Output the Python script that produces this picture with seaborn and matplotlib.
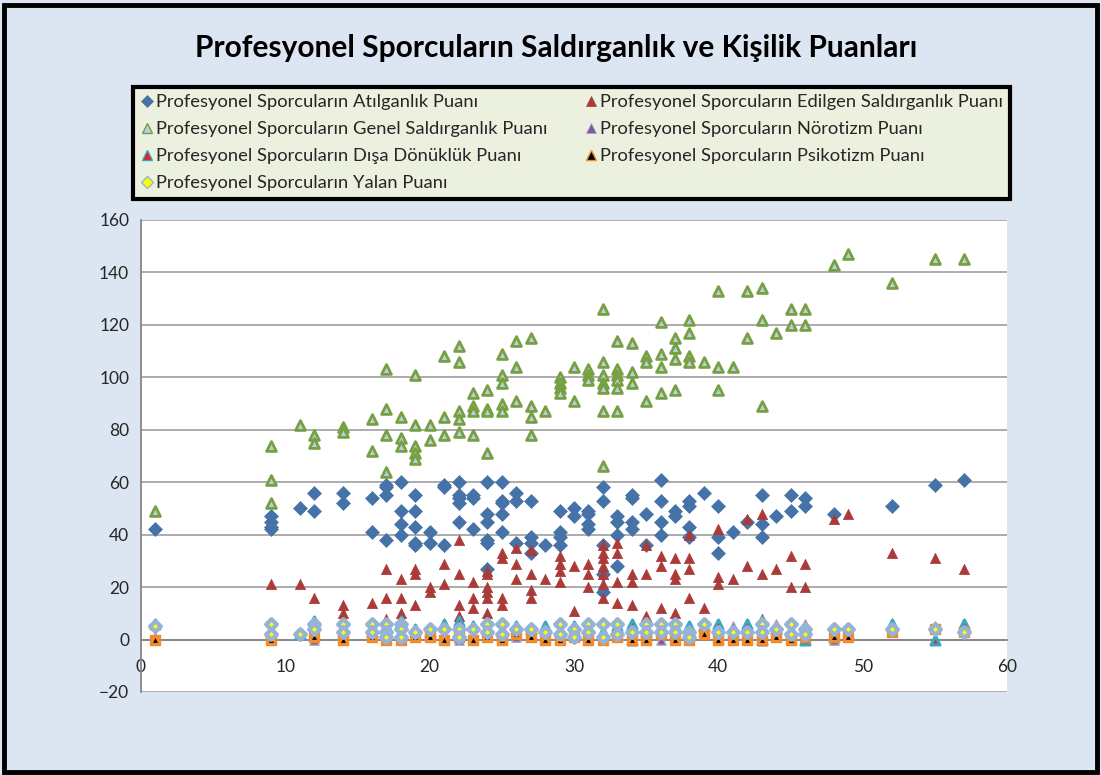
import pandas as pd
import matplotlib.pyplot as plt
import seaborn as sns
from matplotlib.patches import Rectangle
from matplotlib.lines import Line2D


# Atılganlık (blue diamonds)
atil_x = [1, 9, 9, 9, 9, 11, 12, 12, 14, 14, 16, 16, 17, 17, 17, 17, 18, 18, 18, 18,
          19, 19, 19, 19, 19, 20, 20, 21, 21, 21, 22, 22, 22, 22, 22, 23, 23, 23,
          24, 24, 24, 24, 24, 24, 25, 25, 25, 25, 25, 26, 26, 26, 27, 27, 27, 27, 28,
          29, 29, 29, 29, 30, 30, 31, 31, 31, 31, 32, 32, 32, 32, 32, 33, 33, 33, 33,
          34, 34, 34, 34, 35, 35, 36, 36, 36, 36, 37, 37, 38, 38, 38, 38, 39,
          40, 40, 40, 41, 42, 43, 43, 43, 44, 45, 45, 46, 46, 48, 52, 55, 57]
atil_y = [42, 47, 45, 43, 42, 50, 56, 49, 56, 52, 54, 41, 59, 58, 55, 38, 60, 49, 44, 40,
          55, 49, 43, 37, 36, 41, 37, 59, 58, 36, 60, 55, 54, 52, 45, 55, 54, 42,
          60, 48, 45, 38, 37, 27, 60, 53, 52, 48, 41, 56, 53, 37, 53, 39, 37, 33, 36,
          49, 41, 39, 36, 50, 47, 49, 48, 44, 42, 58, 53, 36, 25, 18, 47, 45, 40, 28,
          55, 54, 45, 42, 48, 36, 61, 53, 45, 40, 49, 47, 53, 51, 43, 39, 56,
          51, 39, 33, 41, 45, 55, 44, 39, 47, 55, 49, 54, 51, 48, 51, 59, 61]

# Edilgen Saldırganlık (dark red triangles)
edil_x = [9, 11, 12, 14, 14, 16, 17, 17, 17, 18, 18, 18, 18, 19, 19, 19, 20, 20, 21, 21,
          22, 22, 22, 22, 23, 23, 23, 24, 24, 24, 24, 24, 24, 25, 25, 25, 25, 26, 26, 26,
          27, 27, 27, 27, 28, 29, 29, 29, 29, 30, 30, 31, 31, 31,
          32, 32, 32, 32, 32, 32, 32, 33, 33, 33, 33, 34, 34, 34, 35, 35, 35, 36, 36, 36,
          37, 37, 37, 37, 38, 38, 38, 38, 39, 40, 40, 40, 41, 42, 42, 43, 43, 43, 44,
          45, 45, 46, 46, 48, 49, 52, 55, 57]
edil_y = [21, 21, 16, 13, 10, 14, 27, 16, 8, 23, 16, 10, 8, 27, 25, 13, 20, 18, 29, 21,
          38, 25, 13, 9, 22, 16, 12, 26, 25, 20, 18, 16, 10, 33, 31, 16, 13, 35, 29, 23,
          34, 25, 19, 16, 23, 32, 29, 26, 22, 28, 11, 29, 25, 20,
          36, 33, 31, 28, 25, 21, 16, 37, 33, 22, 14, 25, 22, 13, 36, 25, 9, 32, 28, 12,
          31, 25, 23, 10, 40, 31, 27, 16, 12, 42, 24, 21, 23, 46, 28, 48, 25, 8, 27,
          32, 20, 29, 20, 46, 48, 33, 31, 27]

# Genel Saldırganlık (green open triangles)
genel_x = [1, 9, 9, 9, 11, 12, 12, 14, 14, 16, 16, 17, 17, 17, 17, 18, 18, 18,
           19, 19, 19, 19, 19, 20, 20, 21, 21, 21, 22, 22, 22, 22, 22, 23, 23, 23, 23,
           24, 24, 24, 24, 25, 25, 25, 25, 25, 26, 26, 26, 27, 27, 27, 27, 28,
           29, 29, 29, 29, 30, 30, 31, 31, 31, 32, 32, 32, 32, 32, 32, 32,
           33, 33, 33, 33, 33, 33, 34, 34, 34, 35, 35, 35, 36, 36, 36, 36,
           37, 37, 37, 37, 38, 38, 38, 38, 39, 40, 40, 40, 41, 42, 42, 43, 43, 43,
           44, 45, 45, 46, 46, 48, 49, 52, 55, 57]
genel_y = [49, 74, 61, 52, 82, 78, 75, 81, 79, 84, 72, 103, 88, 78, 64, 85, 77, 74,
           101, 82, 74, 71, 69, 82, 76, 108, 85, 78, 112, 106, 87, 84, 79, 94, 89, 87, 78,
           95, 88, 87, 71, 109, 101, 98, 90, 87, 114, 104, 91, 115, 89, 85, 78, 87,
           100, 98, 96, 94, 104, 91, 103, 101, 99, 126, 106, 101, 98, 96, 87, 66,
           114, 103, 101, 99, 96, 87, 113, 102, 98, 108, 106, 91, 121, 109, 104, 94,
           115, 111, 107, 95, 122, 117, 108, 106, 106, 133, 104, 95, 104, 133, 115, 134, 122, 89,
           117, 126, 120, 126, 120, 143, 147, 136, 145, 145]

# Nörotizm (purple triangles)
noro_x = [1, 9, 12, 14, 16, 17, 18, 19, 20, 21, 22, 23, 24, 25, 26, 27, 28, 29, 30, 31,
          32, 33, 34, 35, 36, 37, 38, 39, 40, 41, 42, 43, 44, 45, 46, 48, 49, 52, 55, 57]
noro_y = [1, 1, 0, 1, 2, 3, 2, 4, 3, 2, 0, 5, 2, 1, 1, 3, 2, 2, 3, 1,
          2, 3, 4, 2, 0, 3, 1, 4, 3, 5, 4, 5, 6, 0, 6, 0, 3, 5, 5, 5]

# Dışa Dönüklük (red triangles, teal edge)
disa_x = [1, 9, 11, 12, 14, 16, 17, 18, 19, 20, 21, 22, 23, 24, 25, 26, 27, 28, 29, 30,
          31, 32, 33, 34, 34, 35, 36, 37, 38, 39, 40, 41, 42, 43, 43, 44, 45, 46, 48, 49,
          52, 55, 57]
disa_y = [6, 3, 2, 7, 4, 3, 5, 7, 4, 3, 6, 7, 5, 4, 3, 5, 4, 5, 3, 5,
          4, 3, 5, 6, 0, 3, 4, 5, 5, 5, 6, 2, 6, 7, 0, 4, 3, 0, 1, 2,
          6, 0, 6]

# Psikotizm (black triangles, orange edge)
psik_x = [1, 9, 12, 14, 16, 17, 18, 19, 20, 21, 22, 23, 24, 25, 26, 27, 28, 29, 30, 31,
          32, 33, 34, 35, 36, 37, 38, 39, 40, 41, 42, 43, 44, 45, 46, 48, 49, 52, 55, 57]
psik_y = [0, 0, 1, 0, 1, 0, 0, 1, 1, 0, 1, 0, 1, 0, 2, 1, 0, 0, 1, 0,
          0, 1, 0, 0, 2, 0, 0, 2, 0, 0, 0, 0, 1, 0, 1, 1, 1, 3, 4, 3]

# Yalan (yellow diamonds)
yalan_x = [1, 9, 9, 11, 12, 12, 14, 14, 16, 16, 17, 17, 17, 18, 18, 18, 19, 20, 21, 22, 22,
           23, 24, 24, 25, 25, 26, 27, 28, 29, 29, 30, 30, 31, 31, 32, 32, 33, 33, 34,
           35, 35, 36, 36, 37, 37, 38, 38, 39, 40, 41, 42, 43, 43, 44, 45, 45, 46, 46,
           48, 49, 52, 55, 57]
yalan_y = [5, 6, 2, 2, 6, 4, 6, 3, 6, 3, 6, 3, 1, 6, 4, 1, 3, 4, 4, 4, 1,
           4, 6, 3, 6, 2, 4, 4, 3, 6, 2, 4, 1, 6, 3, 6, 1, 6, 2, 3,
           6, 3, 6, 3, 6, 3, 3, 1, 6, 3, 3, 3, 6, 3, 4, 6, 2, 4, 2,
           4, 4, 4, 4, 3]

prefix = 'Profesyonel Sporcuların '
# name, x, y, marker, face, edge, edge width, size, legend marker (face, edge, width)
series = [
    ('Atılganlık Puanı', atil_x, atil_y, 'D', '#4572A7', '#4572A7', 0.5, 50,
     ('#4572A7', '#4572A7', 0.5)),
    ('Edilgen Saldırganlık Puanı', edil_x, edil_y, '^', '#AA3B38', '#AA3B38', 0.5, 55,
     ('#AA3B38', '#AA3B38', 0.5)),
    ('Genel Saldırganlık Puanı', genel_x, genel_y, '^', '#B9CDE5', '#77A040', 2.0, 50,
     ('#B9CDE5', '#77A040', 1.0)),
    ('Nörotizm Puanı', noro_x, noro_y, '^', '#7A5C9E', '#B3A2C7', 1.0, 45,
     ('#7A5C9E', '#B3A2C7', 0.6)),
    ('Dışa Dönüklük Puanı', disa_x, disa_y, '^', '#E3222B', '#3AA6C0', 2.2, 42,
     ('#E3222B', '#3AA6C0', 1.0)),
    ('Psikotizm Puanı', psik_x, psik_y, 's', '#F28A2E', '#F28A2E', 1.0, 42,
     ('#000000', '#F28A2E', 1.0)),
    ('Yalan Puanı', yalan_x, yalan_y, 'D', '#FFFF00', '#95B3D7', 3.0, 30,
     ('#FFFF00', '#95B3D7', 1.0)),
]

sns.set_style('white')
plt.rcParams['font.family'] = ['Lato', 'DejaVu Sans']

fig = plt.figure(figsize=(11.01, 7.75), dpi=100, facecolor='#DCE6F2')
ax = fig.add_axes([141 / 1101, 1 - 692 / 775, 866 / 1101, 472 / 775])
ax.set_facecolor('white')

handles = []
for name, xs, ys, mk, fc, ec, lw, size, (lfc, lec, llw) in series:
    df = pd.DataFrame({'x': xs, 'y': ys})
    sns.scatterplot(data=df, x='x', y='y', marker=mk, color=fc, edgecolor=ec,
                    linewidth=lw, s=size, ax=ax, zorder=3, legend=False)
    if name == 'Psikotizm Puanı':
        # small black triangle sitting on the orange base
        sns.scatterplot(data=df, x='x', y='y', marker='^', color='black',
                        edgecolor='black', linewidth=0, s=12, ax=ax, zorder=3,
                        legend=False)
    lmk = 'D' if mk == 'D' else '^'
    handles.append(Line2D([], [], ls='none', marker=lmk, markersize=6 if lmk == 'D' else 7,
                          markerfacecolor=lfc, markeredgecolor=lec, markeredgewidth=llw,
                          label=prefix + name))

ax.set_xlim(0, 60)
ax.set_ylim(-20, 160)
ax.set_xticks(range(0, 61, 10))
ax.set_yticks(range(-20, 161, 20))
ax.yaxis.grid(True, color='#A6A6A6', lw=1.3)
ax.xaxis.grid(False)
ax.set_axisbelow(True)
ax.set_xlabel('')
ax.set_ylabel('')
for side in ['top', 'right']:
    ax.spines[side].set_visible(False)
ax.spines['bottom'].set_position(('data', 0))
ax.spines['bottom'].set_color('#868686')
ax.spines['left'].set_color('#868686')
ax.spines['bottom'].set_linewidth(1.3)
ax.spines['left'].set_linewidth(1.3)
ax.tick_params(axis='both', direction='out', length=5, width=1, color='#868686',
               labelsize=12.5, labelcolor='#262626')
ax.tick_params(axis='x', pad=9)

order = [0, 2, 4, 6, 1, 3, 5]
leg = fig.legend([handles[i] for i in order], [handles[i].get_label() for i in order],
                 loc='upper left', bbox_to_anchor=(133 / 1101, 0, 877 / 1101, 1 - 87 / 775),
                 mode='expand', ncol=2, fontsize=13.2, frameon=True, fancybox=False,
                 handletextpad=0.15, handlelength=0.7, labelspacing=0.6,
                 borderpad=0.4, borderaxespad=0)
leg.get_frame().set_facecolor('#EBF1DE')
leg.get_frame().set_edgecolor('black')
leg.get_frame().set_linewidth(3)
leg.get_frame().set_alpha(1)

fig.text(0.505, 1 - 48 / 775, 'Profesyonel Sporcuların Saldırganlık ve Kişilik Puanları',
         ha='center', va='center', fontsize=21.5, fontweight='bold', color='black')

fig.patches.append(Rectangle((4 / 1101, 3 / 775), 1093 / 1101, 767 / 775,
                             transform=fig.transFigure, fill=False, lw=3.5,
                             ec='black', zorder=10))

fig.savefig('out.png', dpi=100, facecolor=fig.get_facecolor())
